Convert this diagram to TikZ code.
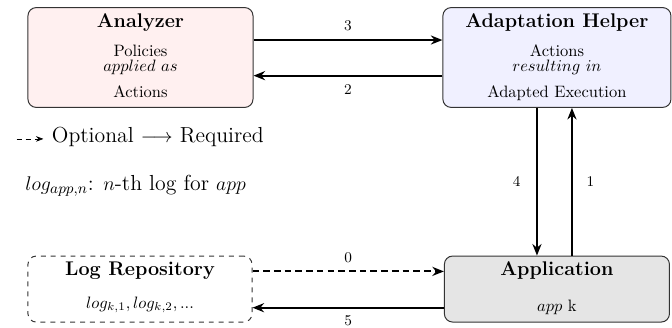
\documentclass[tikz,border=0pt]{standalone}
\usepackage{amsmath}
\usepackage{amssymb}
\usetikzlibrary{arrows.meta, positioning}

\tikzset{
  block/.style={draw=black!80, line width=0.6pt, rounded corners=5pt, minimum height=60.5pt},
  title/.style={anchor=base, font=\large\bfseries, inner sep=0pt},
  body/.style={anchor=base, inner sep=0pt},
  flow/.style={line width=1.2pt, -{Stealth[length=7pt, width=5.5pt]}},
  num/.style={font=\small},
  legendtext/.style={anchor=base west, font=\fontsize{13.2}{16}\selectfont},
}

\begin{document}
\begin{tikzpicture}
  \useasboundingbox (0,0) rectangle (407.3pt,198.2pt);

  % the four components
  \node[block, fill=red!6, minimum width=136.4pt] (analyzer) at (85.15pt,163.35pt) {};
  \node[block, fill=blue!6, minimum width=138.2pt, right=114.5pt of analyzer] (helper) {};
  \node[block, fill=black!10, minimum width=136.4pt, minimum height=40pt, below=89.5pt of helper] (app) {};
  \node[block, dashed, minimum width=135.8pt, minimum height=40pt, left=116pt of app] (logrepo) {};

  % box contents
  \node[title] (analyzer-title) at ([yshift=-12.1pt]analyzer.north) {Analyzer};
  \node[body] (analyzer-a) at ([yshift=-30pt]analyzer.north) {Policies};
  \node[body] (analyzer-b) at ([yshift=-38.8pt]analyzer.north) {$applied\ as$};
  \node[body] (analyzer-c) at ([yshift=-55pt]analyzer.north) {Actions};

  \node[title] (helper-title) at ([yshift=-12.1pt]helper.north) {Adaptation Helper};
  \node[body] (helper-a) at ([yshift=-30pt]helper.north) {Actions};
  \node[body] (helper-b) at ([yshift=-38.8pt]helper.north) {$resulting\ in$};
  \node[body] (helper-c) at ([yshift=-55pt]helper.north) {Adapted Execution};

  \node[title] (app-title) at ([yshift=-12.1pt]app.north) {Application};
  \node[body] (app-a) at ([yshift=-34pt]app.north) {$app$~k};

  \node[title] (logrepo-title) at ([yshift=-12.1pt]logrepo.north) {Log Repository};
  \node[body] (logrepo-a) at ([yshift=-32pt]logrepo.north) {$log_{k,1}, log_{k,2}, ...$};

  % numbered steps
  \draw[flow] ([yshift=10.6pt]analyzer.east) -- node[num, above=1.5pt] (n3) {3} ([yshift=10.6pt]helper.west);
  \draw[flow] ([yshift=-11pt]helper.west) -- node[num, below=1.7pt] (n2) {2} ([yshift=-11pt]analyzer.east);
  \draw[flow] ([xshift=-12.1pt]helper.south) -- node[num, left=6pt] (n4) {4} ([xshift=-12.1pt]helper.south |- app.north);
  \draw[flow] ([xshift=9.1pt]helper.south |- app.north) -- node[num, right=5pt] (n1) {1} ([xshift=9.1pt]helper.south);
  \draw[flow, dash pattern=on 4pt off 2.5pt] ([yshift=10.7pt]logrepo.east) -- node[num, above=1.3pt] (n0) {0} ([yshift=10.7pt]app.west);
  \draw[flow] ([yshift=-11.3pt]app.west) -- node[num, below=0.6pt] (n5) {5} ([yshift=-11.3pt]logrepo.east);

  % legend
  \coordinate (opt-start) at (10.1pt,114pt);
  \node[legendtext, inner ysep=0pt, inner xsep=5pt] (legend) at (26.3pt,111.7pt) {Optional $\longrightarrow$ Required};
  \draw[dash pattern=on 3pt off 2.5pt, -{Stealth[length=4.5pt]}] (opt-start) -- (legend.west |- opt-start);
  \node[legendtext, inner sep=0pt] (loglegend) at (15.2pt,83pt) {$log_{app,n}$: $n$-th log for $app$};
\end{tikzpicture}
\end{document}
